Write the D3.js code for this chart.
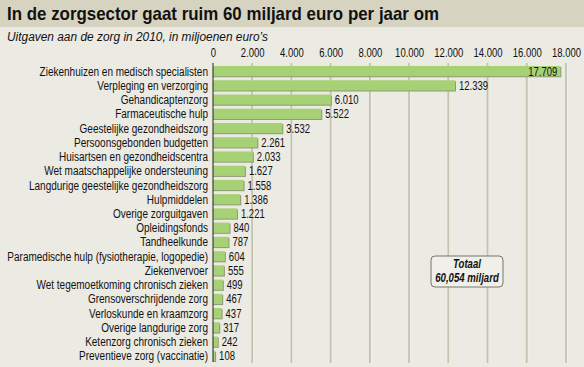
<!DOCTYPE html>
<html><head><meta charset="utf-8">
<script src="https://cdn.jsdelivr.net/npm/d3@7"></script>
<style>
html,body{margin:0;padding:0;background:#ebeae3;}
svg{display:block;}
.nar{font-family:"Liberation Sans",Arial,sans-serif;}
</style></head>
<body>
<script>
const categories = ["Ziekenhuizen en medisch specialisten","Verpleging en verzorging","Gehandicaptenzorg","Farmaceutische hulp","Geestelijke gezondheidszorg","Persoonsgebonden budgetten","Huisartsen en gezondheidscentra","Wet maatschappelijke ondersteuning","Langdurige geestelijke gezondheidszorg","Hulpmiddelen","Overige zorguitgaven","Opleidingsfonds","Tandheelkunde","Paramedische hulp (fysiotherapie, logopedie)","Ziekenvervoer","Wet tegemoetkoming chronisch zieken","Grensoverschrijdende zorg","Verloskunde en kraamzorg","Overige langdurige zorg","Ketenzorg chronisch zieken","Preventieve zorg (vaccinatie)"];
const values = [17709,12339,6010,5522,3532,2261,2033,1627,1558,1386,1221,840,787,604,555,499,467,437,317,242,108];
const tickValues = [0,2000,4000,6000,8000,10000,12000,14000,16000,18000];
const title = "In de zorgsector gaat ruim 60 miljard euro per jaar om";
const subtitle = "Uitgaven aan de zorg in 2010, in miljoenen euro’s";
const totalLines = ["Totaal","60,054 miljard"];

const W=584,H=367;
const nl = d3.formatLocale({decimal:",",thousands:".",grouping:[3],currency:["€",""]});
const fmt = nl.format(",d");

const svg = d3.select("body").append("svg").attr("width",W).attr("height",H);
svg.append("rect").attr("width",W).attr("height",H).attr("fill","#ebeae3");
svg.append("rect").attr("width",W).attr("height",27).attr("fill","#d6d4c1");
svg.append("text").attr("x",7).attr("y",20).attr("font-family","Liberation Sans, Arial, sans-serif")
  .attr("font-weight","bold").attr("font-size",18.5).attr("fill","#111")
  .attr("textLength",432).attr("lengthAdjust","spacingAndGlyphs").text(title);
svg.append("text").attr("x",7).attr("y",41).attr("font-family","Liberation Sans, Arial, sans-serif")
  .attr("font-style","italic").attr("font-size",12.5).attr("fill","#111")
  .attr("textLength",261).attr("lengthAdjust","spacingAndGlyphs").text(subtitle);

const NARROW = 0.76;
function condense(sel, f){
  sel.each(function(){
    const w = this.getComputedTextLength();
    d3.select(this).attr("textLength", w*f).attr("lengthAdjust","spacingAndGlyphs");
  });
}

const x = d3.scaleLinear().domain([0,18000]).range([213,566]);
const y = d3.scaleBand().domain(categories).range([64,363]).paddingInner(0.28).paddingOuter(0.14);

// gridlines
const g = svg.append("g");
tickValues.slice(1).forEach(v=>{
  g.append("line").attr("x1",x(v)+1).attr("x2",x(v)+1).attr("y1",63).attr("y2",363).attr("stroke","#f7f6f0").attr("stroke-width",1);
  g.append("line").attr("x1",x(v)).attr("x2",x(v)).attr("y1",63).attr("y2",363).attr("stroke","#c3c2af").attr("stroke-width",1.8);
});

// axis labels
const axis = d3.axisTop(x).tickValues(tickValues).tickFormat(fmt).tickSize(0).tickPadding(0);
const ax = svg.append("g").attr("transform","translate(0,57)").call(axis);
ax.select(".domain").remove();
ax.selectAll("text").attr("class","nar").attr("font-size",12.5).attr("fill","#111").call(condense, NARROW);

// bars
const bars = svg.append("g");
bars.selectAll(".sh").data(values).join("rect")
  .attr("x",x(0)).attr("y",(d,i)=>y(categories[i])+1)
  .attr("width",d=>x(d)-x(0)+1).attr("height",y.bandwidth())
  .attr("fill","#8f9a76");
bars.selectAll(".b").data(values).join("rect")
  .attr("x",x(0)).attr("y",(d,i)=>y(categories[i]))
  .attr("width",d=>x(d)-x(0)).attr("height",y.bandwidth())
  .attr("fill","#a7d175");

// axis line
svg.append("line").attr("x1",x(0)).attr("x2",x(0)).attr("y1",63).attr("y2",362).attr("stroke","#222").attr("stroke-width",1);

// category labels
const cl = svg.append("g").selectAll("text").data(categories).join("text")
  .attr("class","nar").attr("x",208).attr("y",d=>y(d)+y.bandwidth()/2).attr("dy","0.36em")
  .attr("text-anchor","end").attr("font-size",12.5).attr("fill","#111").text(d=>d);
const longest = d3.max(cl.nodes(), n=>n.getComputedTextLength());
const catF = Math.min(0.8, 204/longest);
cl.call(condense, catF);

// value labels
svg.append("g").selectAll("text").data(values).join("text")
  .attr("class","nar")
  .attr("x",(d,i)=> i===0 ? x(d)-3 : x(d)+4)
  .attr("text-anchor",(d,i)=> i===0 ? "end":"start")
  .attr("y",(d,i)=>y(categories[i])+y.bandwidth()/2).attr("dy","0.36em")
  .attr("font-size",12.5).attr("fill","#111").text(d=>fmt(d)).call(condense, NARROW);

// total box
const bx = svg.append("g");
bx.append("rect").attr("x",431).attr("y",256).attr("width",72).attr("height",31).attr("rx",4)
  .attr("fill","#f0efe9").attr("stroke","#77766a").attr("stroke-width",1);
bx.selectAll("text").data(totalLines).join("text").attr("class","nar")
  .attr("x",467).attr("y",(d,i)=>268+i*14).attr("text-anchor","middle")
  .attr("font-weight","bold").attr("font-style","italic").attr("font-size",12).attr("fill","#111").text(d=>d)
  .call(condense, 0.8);
</script>
</body></html>
